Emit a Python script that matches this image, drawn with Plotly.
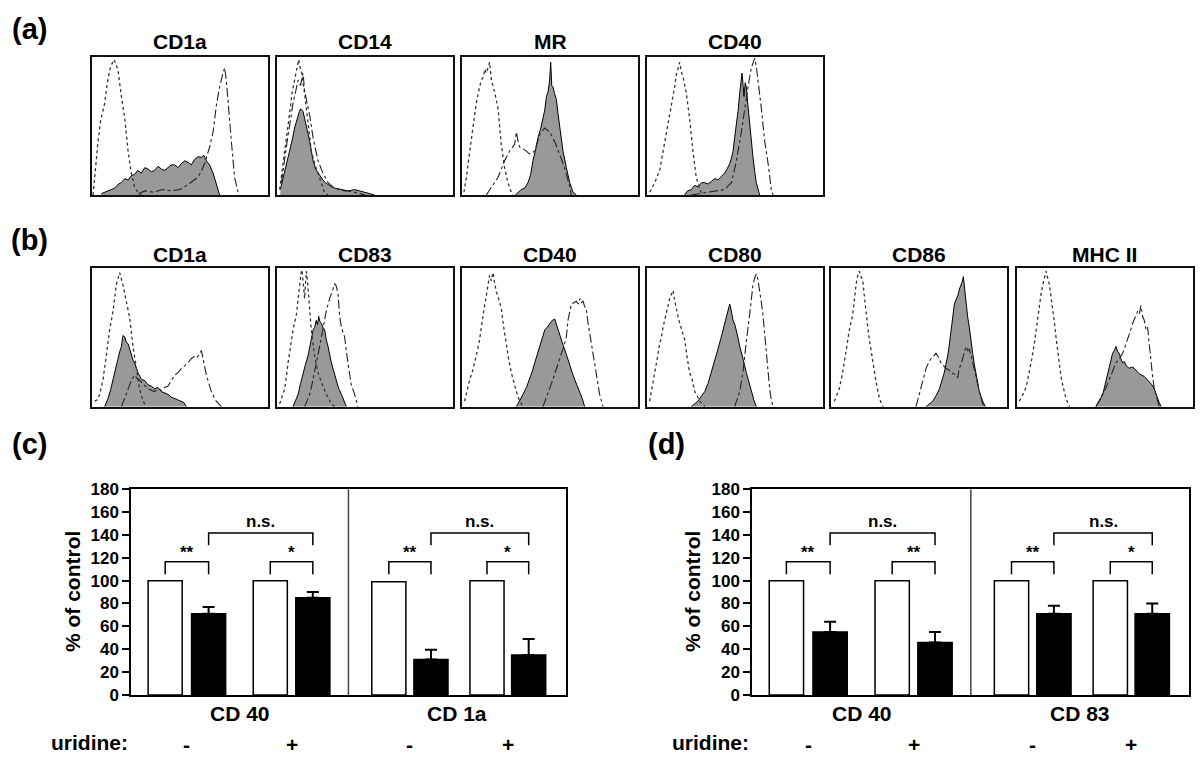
import plotly.graph_objects as go

W, H = 1200, 771
FONT = "Liberation Sans, Arial, Helvetica, sans-serif"

# ---------------- Histogram data (fluorescence channel as % of axis, relative count %) ----------------
# (a) CD1a
a_cd1a_iso_x = [0.6, 1.5, 3.4, 5, 7.2, 8.5, 10, 11, 12.5, 13.5, 14.8, 16.7, 18.6, 20.5, 22.3, 24.2, 26, 28]
a_cd1a_iso_y = [0, 13, 39, 55, 67, 80, 91, 95, 99, 96, 91, 72, 56, 32, 16, 6, 2, 0]
a_cd1a_dash_x = [26.5, 30, 35, 40, 45, 50, 54.5, 57, 60, 62, 64, 66.8, 68.8, 70.6, 72.5, 74.4, 75.4, 76.3, 77.3, 79.2, 81, 83, 84]
a_cd1a_dash_y = [1, 3, 2, 4, 3, 4, 7.5, 10, 13, 17, 23, 35, 46, 65, 79, 89, 93, 84, 67, 39, 13, 2, 0]
a_cd1a_fill_x = [5.3, 9, 12.9, 15, 16.7, 18.6, 20.5, 22.3, 24.2, 26, 28, 30, 31.8, 33.7, 35.6, 37.5, 39.4, 41.3, 43.2, 45, 47, 49, 50.8, 52.7, 54.5, 56.4, 58.3, 60.2, 62.1, 63.5, 65, 66.8, 68.8, 70.6, 72.5]
a_cd1a_fill_y = [1, 3, 5, 8, 9, 12, 11, 14, 15, 18, 16, 20, 19, 17, 18, 21, 19, 18, 20, 22, 22, 20, 23, 25, 24, 22, 26, 28, 27.5, 29, 25, 22, 16, 9, 0]

# (a) CD14
a_cd14_iso_x = [1.5, 3, 4.4, 6, 7.2, 8.6, 10, 11, 12.3, 13.1, 13.8, 15.7, 17.6, 19.5, 21.4, 23.3, 25.2, 27, 29]
a_cd14_iso_y = [4, 18, 32, 50, 60, 75, 84, 90, 99, 93, 91, 74, 51, 32, 23, 16, 9, 2, 0]
a_cd14_dash_x = [2.5, 4.4, 6.3, 7.7, 9.1, 10.5, 12, 13.4, 14.8, 15.7, 16.7, 17.6, 18.6, 20.5, 23.3, 26.1, 29, 32.8, 35.7, 38.5, 41, 44, 47, 50]
a_cd14_dash_y = [9, 28, 44, 55, 67, 75, 84, 80, 89, 76, 70, 62, 58, 42, 25, 16, 9, 5, 4, 3, 3, 2, 1, 0]
a_cd14_fill_x = [1.9, 3, 4.4, 5.8, 7.2, 8.6, 10, 11, 11.9, 12.7, 13.4, 14.1, 14.8, 15.7, 16.7, 17.6, 18.6, 19.5, 20.5, 21.9, 23.3, 24.7, 26.1, 27.5, 29, 31, 32.8, 35.7, 38.5, 41, 44, 47, 50, 53, 55.5]
a_cd14_fill_y = [4, 10, 16, 24, 32, 40, 49, 54, 58, 61, 63, 62, 61, 56, 51, 45, 39, 31, 25, 19, 16, 13, 11, 9, 7.5, 6, 5, 4, 3.5, 3, 4, 3, 2, 1, 0]

# (a) MR
a_mr_iso_x = [1.1, 2.5, 4.4, 6.3, 8.1, 10, 11, 12, 13, 13.8, 14.8, 15.7, 16.7, 18.6, 20.5, 22.3, 24.2, 26.1, 28, 29]
a_mr_iso_y = [2, 13, 32, 49, 67, 79, 84, 86, 92, 89, 94, 97, 84, 75, 63, 37, 20, 9, 2, 0]
a_mr_dash_x = [13.8, 16.7, 20.5, 24.2, 27, 29.9, 30.9, 32, 32.8, 35.6, 38.4, 41.3, 44.1, 47, 49.8, 52.7, 55.5, 58.3, 61.2, 62.1]
a_mr_dash_y = [0, 6, 13, 25, 32, 37, 46, 38, 35, 33, 30, 32, 44, 49, 46, 39, 30, 20, 6, 0]
a_mr_fill_x = [30.3, 33.7, 35.6, 37.5, 39, 40.3, 41.8, 43.2, 44.6, 46, 47, 48, 49, 49.8, 50.4, 51, 51.7, 52.6, 53.6, 54.5, 55.5, 56.5, 57.4, 59.3, 61.2, 63.1, 65]
a_mr_fill_y = [0, 4, 5, 9, 15, 25, 33, 42, 48, 56, 62, 72, 76, 84, 97, 80, 79, 74, 70, 60, 51, 40, 32, 20, 9, 2, 0]

# (a) CD40
a_cd40_iso_x = [1.5, 4.4, 7.2, 8.6, 10, 11.9, 13.8, 15.7, 16.7, 17.6, 18.6, 19.5, 20.5, 22.3, 24.2, 26.1, 28, 29.9, 31.8]
a_cd40_iso_y = [2, 9, 18, 28, 37, 51, 63, 79, 88, 93, 97, 90, 86, 75, 56, 32, 13, 4, 0]
a_cd40_dash_x = [25.2, 30, 34.7, 40, 44.1, 48, 50.8, 53.6, 55.5, 57.4, 59.3, 60.3, 61.2, 62.1, 63.1, 65, 66.9, 68.8, 70.6, 71.6]
a_cd40_dash_y = [0, 1, 2, 3, 4, 9, 25, 46, 63, 79, 93, 97, 100, 94, 84, 63, 39, 23, 4, 0]
a_cd40_fill_x = [21.4, 23, 25.2, 27, 29, 31, 32.8, 34.7, 36.6, 38.5, 40.3, 42, 44.1, 45.5, 47, 48, 48.9, 49.8, 50.8, 51.8, 52.7, 53.4, 54, 54.6, 55.1, 55.8, 56.4, 57.3, 58.3, 59.2, 60.2, 61.2, 62.1, 64]
a_cd40_fill_y = [0, 3, 4, 7, 6, 9, 9, 8, 10, 12, 11, 13, 16, 19, 23, 27, 32, 42, 51, 62, 75, 83, 89, 80, 72, 82, 79, 66, 51, 38, 28, 17, 9, 0]

# (b) CD1a
b_cd1a_iso_x = [1.5, 3, 4.4, 6.3, 8.1, 10, 12, 13.8, 15.7, 16.7, 17.6, 19.5, 21.4, 23.3, 25.2, 27, 29, 30.9]
b_cd1a_iso_y = [4, 5, 9, 20, 37, 56, 70, 89, 98, 93, 89, 77, 65, 44, 28, 13, 4, 0]
b_cd1a_dash_x = [16.7, 18.6, 20.5, 22.3, 24.2, 26.1, 28, 30, 31.8, 33.7, 35.6, 37.5, 39.4, 41.3, 43.2, 45, 47, 49, 50.8, 52.7, 54.5, 56.4, 58.3, 59.8, 61.2, 62.2, 63.1, 65, 67.8, 70.6, 73.5]
b_cd1a_dash_y = [0, 7, 13, 19, 23, 20, 18, 15, 13, 12, 11, 13, 12, 14, 15, 19, 23, 25, 28, 30, 32, 35, 37, 36, 39, 41, 35, 23, 11, 4, 0]
b_cd1a_fill_x = [7.2, 9.1, 10.5, 12, 13.4, 14.8, 15.7, 16.7, 17.6, 18.6, 19.5, 20.5, 21.4, 22.3, 23.3, 24.2, 26.1, 28, 30, 31.8, 33.7, 35.6, 37.5, 39.4, 41.3, 43.2, 45, 47, 49, 50.8, 52.2, 53.6]
b_cd1a_fill_y = [0, 6, 12, 20, 29, 37, 40, 44, 52, 51, 47, 46, 42, 39, 34, 32, 25, 20, 19, 16, 15, 13, 14, 11, 10, 9, 7, 6, 5, 4, 3, 0]

# (b) CD83
b_cd83_iso_x = [1.5, 3, 4.4, 6.3, 7.7, 9.1, 11, 12.1, 12.9, 13.6, 14.2, 14.9, 15.7, 16.2, 16.7, 17.3, 18, 19.5, 21.4, 23.3, 25.2, 28, 30.9, 32.8]
b_cd83_iso_y = [2, 7, 13, 32, 45, 56, 67, 80, 93, 97, 100, 90, 79, 90, 99, 92, 79, 56, 37, 25, 18, 9, 2, 0]
b_cd83_dash_x = [15.7, 17, 18.6, 20, 21.4, 22.8, 24.2, 26.1, 28, 29.9, 30.9, 31.8, 32.8, 33.7, 34.7, 35.6, 36.6, 38.4, 40.3, 42.2, 44.1, 45, 46]
b_cd83_dash_y = [0, 4, 9, 17, 25, 35, 44, 56, 70, 79, 82, 86, 90, 88, 82, 66, 58, 51, 32, 16, 9, 4, 0]
b_cd83_fill_x = [9.1, 10.5, 12, 13.4, 14.8, 16.2, 17.6, 19, 20.5, 21.4, 22.3, 23, 23.7, 24.4, 25.2, 26.1, 27.1, 28, 29, 30.9, 32.3, 33.7, 35.1, 36.6, 38.4, 39.4]
b_cd83_fill_y = [0, 5, 9, 17, 25, 31, 37, 47, 56, 58, 63, 60, 66, 62, 61, 58, 56, 49, 44, 32, 25, 18, 13, 9, 4, 0]

# (b) CD40
b_cd40_iso_x = [1.5, 3, 4.4, 5.8, 7.2, 8.6, 10, 11, 12, 12.9, 13.8, 14.8, 15.7, 16.7, 17.6, 18.6, 19.5, 21, 22.3, 23.7, 25.2, 26.6, 28, 30.9, 32.8, 34.7]
b_cd40_iso_y = [4, 12, 20, 25, 32, 40, 49, 60, 67, 74, 81, 90, 96, 92, 98, 90, 84, 78, 72, 58, 44, 34, 25, 11, 4, 0]
b_cd40_dash_x = [46, 47.5, 48.9, 50.3, 51.7, 53.1, 54.5, 56, 57.4, 58.3, 59.3, 60.2, 61.2, 62.1, 63.5, 65, 66, 66.9, 67.8, 68.8, 69.7, 70.6, 71.5, 72.5, 73.5, 74.4, 76.3, 78.2, 80.1]
b_cd40_dash_y = [0, 5, 9, 15, 20, 26, 32, 37, 42, 46, 51, 63, 70, 75, 76, 77, 75, 79, 76, 77, 73, 72, 62, 54, 45, 39, 23, 9, 0]
b_cd40_fill_x = [30.9, 32.8, 34.7, 36.6, 38.4, 40, 41.3, 42.7, 44.1, 45.5, 47, 48.4, 49.8, 51.2, 52.7, 53.6, 54.5, 55.5, 56.4, 57.4, 58.3, 59.7, 61.2, 62.6, 64, 65.5, 66.9, 68.3, 69.7]
b_cd40_fill_y = [0, 4, 9, 14, 20, 26, 32, 38, 44, 50, 56, 58, 61, 63, 64, 60, 56, 53, 49, 45, 42, 36, 30, 25, 20, 15, 11, 6, 0]

# (b) CD80
b_cd80_iso_x = [1.5, 3, 4.4, 5.8, 7.2, 8.1, 9.1, 10, 11, 12, 12.9, 13.8, 14.8, 15.7, 16.7, 17.6, 18.6, 20, 21.4, 22.8, 24.2, 25.6, 27.1, 28.5, 29.9, 31.4, 32.8]
b_cd80_iso_y = [4, 14, 23, 35, 46, 50, 58, 63, 70, 75, 79, 82, 85, 78, 70, 66, 61, 55, 49, 36, 25, 20, 11, 8, 4, 2, 0]
b_cd80_dash_x = [49.8, 51.2, 52.7, 53.6, 54.5, 55.5, 56.4, 57.4, 58.3, 59.3, 60.2, 61.2, 62.1, 63, 64, 65, 65.9, 66.9, 67.8, 68.8, 69.7, 70.6, 71.6]
b_cd80_dash_y = [0, 5, 11, 18, 25, 37, 49, 58, 67, 78, 89, 94, 97, 93, 86, 76, 67, 52, 39, 25, 13, 5, 0]
b_cd80_fill_x = [25.2, 27, 29, 31, 32.8, 34.7, 36.6, 38.4, 40.3, 41.8, 43.2, 44.1, 45.1, 46, 47, 47.9, 48.9, 49.9, 50.8, 51.8, 52.7, 53.6, 54.5, 55.5, 56.4, 57.8, 59.3, 60.7, 62.1]
b_cd80_fill_y = [0, 2, 4, 8, 11, 17, 25, 33, 42, 49, 56, 60, 65, 68, 75, 70, 63, 60, 56, 50, 44, 40, 35, 30, 25, 18, 11, 5, 0]

# (b) CD86
b_cd86_iso_x = [1.9, 3.3, 4.7, 6.2, 7.6, 9, 10.4, 11.4, 12.3, 13.3, 14.2, 15.2, 16.1, 17, 18, 19, 19.9, 20.9, 21.8, 22.8, 23.7, 25.6, 27.5, 29.4]
b_cd86_iso_y = [4, 8, 13, 22, 32, 44, 56, 62, 67, 78, 89, 96, 99, 95, 93, 80, 67, 58, 49, 40, 32, 18, 6, 0]
b_cd86_dash_x = [48.3, 49.7, 51.1, 52.6, 54, 55.4, 56.8, 58.3, 59.7, 61.1, 62.5, 63.9, 65.3, 66.8, 68.2, 69.6, 71, 72, 72.9, 73.9, 74.8, 75.8, 76.7, 77.7, 78.6, 79.5, 80.5, 81.4, 82.4, 84.3, 86.2, 87.1]
b_cd86_dash_y = [0, 7, 13, 21, 28, 32, 35, 37, 39, 36, 32, 30, 28, 27, 25, 24, 23, 21, 28, 31, 35, 40, 44, 41, 42, 38, 32, 27, 20, 11, 2, 0]
b_cd86_fill_x = [54, 56, 57.8, 59.7, 61.6, 63, 64.4, 65.3, 66.3, 67.3, 68.2, 69.2, 70.1, 71, 72, 73, 73.9, 74.5, 75.2, 75.9, 76.7, 77.6, 78.6, 79.5, 80.5, 81.4, 82.4, 83.3, 84.3, 86.2, 87.7]
b_cd86_fill_y = [0, 2, 4, 8, 13, 19, 25, 31, 37, 46, 56, 66, 75, 78, 81, 86, 89, 91, 95, 86, 79, 66, 58, 47, 39, 31, 25, 18, 11, 4, 0]

# (b) MHC II
b_mhc_iso_x = [1.5, 3, 4.4, 5.8, 7.2, 8.6, 10, 11.4, 12.9, 13.8, 14.8, 15.7, 16.7, 17.6, 18.6, 19.5, 20.5, 21.4, 22.3, 23.3, 24.2, 25.2, 26.1, 27, 28, 29.9]
b_mhc_iso_y = [4, 8, 11, 17, 25, 35, 46, 60, 72, 82, 89, 95, 99, 94, 89, 80, 72, 62, 51, 40, 30, 22, 16, 10, 6, 0]
b_mhc_dash_x = [45, 47, 48.9, 50.8, 52.7, 54.5, 56.4, 58.3, 60.2, 61.6, 63.1, 64.5, 65.9, 67.3, 68.8, 69.7, 70.6, 71.5, 72.5, 73.5, 74.4, 75.3, 76.3, 77.2, 78.2, 80.1, 81]
b_mhc_dash_y = [0, 5, 9, 14, 20, 26, 32, 35, 39, 44, 49, 55, 61, 66, 70, 68, 74, 66, 63, 56, 58, 46, 32, 22, 13, 4, 0]
b_mhc_fill_x = [45, 47, 48.9, 50.3, 51.7, 53.1, 54.5, 55.5, 56.4, 57.4, 58.3, 59.2, 60.2, 61.2, 62.1, 63, 64, 65.4, 66.8, 68.2, 69.7, 71.1, 72.5, 74, 75.4, 76.8, 78.2, 79.2, 80.1, 81, 82]
b_mhc_fill_y = [0, 4, 9, 16, 25, 32, 39, 41, 44, 40, 39, 35, 32, 33, 30, 29, 28, 29, 28, 26, 24, 23, 22, 20, 18, 16, 13, 10, 6, 3, 0]

# ---------------- Bar chart data ----------------
groups_c = ["CD 40", "CD 1a"]
groups_d = ["CD 40", "CD 83"]
uridine_labels = ["-", "+", "-", "+"]
c_control = [100, 100, 99, 100]
c_treated = [71, 85, 31, 35]
c_err = [6, 5, 8.5, 14]
c_sig = ["**", "*", "**", "*"]
d_control = [100, 100, 100, 100]
d_treated = [55, 46, 71, 71]
d_err = [9, 9, 7, 9]
d_sig = ["**", "**", "**", "*"]

# ---------------- Layout helpers ----------------
def px_x(p):
    return p / W

def px_y(p):
    return 1 - p / H

COL_X = [(92, 268), (277, 453), (462, 638), (647, 823), (831, 1007), (1016.7, 1192.7)]
ROW_Y = {"a": (49, 190.7), "b": (266, 407.7)}
TITLE_Y = {"a": 33, "b": 252}

hist_panels = [
    ("a", 0, "CD1a", (a_cd1a_fill_x, a_cd1a_fill_y), (a_cd1a_iso_x, a_cd1a_iso_y), (a_cd1a_dash_x, a_cd1a_dash_y)),
    ("a", 1, "CD14", (a_cd14_fill_x, a_cd14_fill_y), (a_cd14_iso_x, a_cd14_iso_y), (a_cd14_dash_x, a_cd14_dash_y)),
    ("a", 2, "MR", (a_mr_fill_x, a_mr_fill_y), (a_mr_iso_x, a_mr_iso_y), (a_mr_dash_x, a_mr_dash_y)),
    ("a", 3, "CD40", (a_cd40_fill_x, a_cd40_fill_y), (a_cd40_iso_x, a_cd40_iso_y), (a_cd40_dash_x, a_cd40_dash_y)),
    ("b", 0, "CD1a", (b_cd1a_fill_x, b_cd1a_fill_y), (b_cd1a_iso_x, b_cd1a_iso_y), (b_cd1a_dash_x, b_cd1a_dash_y)),
    ("b", 1, "CD83", (b_cd83_fill_x, b_cd83_fill_y), (b_cd83_iso_x, b_cd83_iso_y), (b_cd83_dash_x, b_cd83_dash_y)),
    ("b", 2, "CD40", (b_cd40_fill_x, b_cd40_fill_y), (b_cd40_iso_x, b_cd40_iso_y), (b_cd40_dash_x, b_cd40_dash_y)),
    ("b", 3, "CD80", (b_cd80_fill_x, b_cd80_fill_y), (b_cd80_iso_x, b_cd80_iso_y), (b_cd80_dash_x, b_cd80_dash_y)),
    ("b", 4, "CD86", (b_cd86_fill_x, b_cd86_fill_y), (b_cd86_iso_x, b_cd86_iso_y), (b_cd86_dash_x, b_cd86_dash_y)),
    ("b", 5, "MHC II", (b_mhc_fill_x, b_mhc_fill_y), (b_mhc_iso_x, b_mhc_iso_y), (b_mhc_dash_x, b_mhc_dash_y)),
]

fig = go.Figure()
layout_axes = {}
annotations = []

def ann(text, x, y, size, xref="paper", yref="paper", xanchor="center", yanchor="middle", angle=0):
    annotations.append(dict(
        text=text, x=x, y=y, xref=xref, yref=yref, xanchor=xanchor, yanchor=yanchor,
        textangle=angle, showarrow=False,
        font=dict(family=FONT, size=size, color="black", weight="bold"),
    ))

FILL_GRAY = "#999999"

for i, (row, col, title, fill, iso, dash) in enumerate(hist_panels, start=1):
    xa = "x" if i == 1 else f"x{i}"
    ya = "y" if i == 1 else f"y{i}"
    xk = "xaxis" if i == 1 else f"xaxis{i}"
    yk = "yaxis" if i == 1 else f"yaxis{i}"
    x0, x1 = COL_X[col]
    y0, y1 = ROW_Y[row]
    layout_axes[xk] = dict(domain=[px_x(x0), px_x(x1)], range=[0, 100], showgrid=False, zeroline=False,
                           showticklabels=False, ticks="", showline=True, mirror=True, linecolor="#111",
                           linewidth=2, anchor=ya, fixedrange=True)
    layout_axes[yk] = dict(domain=[px_y(y1), px_y(y0)], range=[0, 101], showgrid=False, zeroline=False,
                           showticklabels=False, ticks="", showline=True, mirror=True, linecolor="#111",
                           linewidth=2, anchor=xa, fixedrange=True)
    fig.add_trace(go.Scatter(x=fill[0], y=fill[1], mode="lines", fill="tozeroy", fillcolor=FILL_GRAY,
                             line=dict(color="black", width=1), xaxis=xa, yaxis=ya, showlegend=False,
                             hoverinfo="skip"))
    fig.add_trace(go.Scatter(x=iso[0], y=iso[1], mode="lines",
                             line=dict(color="#333333", width=1.3, dash="dot"), xaxis=xa, yaxis=ya,
                             showlegend=False, hoverinfo="skip"))
    fig.add_trace(go.Scatter(x=dash[0], y=dash[1], mode="lines",
                             line=dict(color="#222222", width=1.1, dash="dashdot"), xaxis=xa, yaxis=ya,
                             showlegend=False, hoverinfo="skip"))
    ann(title, px_x((x0 + x1) / 2), px_y(TITLE_Y[row]), 21)

# ---------------- Bar charts ----------------
WHITE_POS = [0.156, 0.640, 1.186, 1.638]
BLACK_POS = [0.356, 0.836, 1.380, 1.830]
BAR_W = 0.157
LOW_LEG = (105.6, 116.5)
UP_LEG = (131, 141.6)
STAR_Y = 125
NS_Y = 152

BAR_PANELS = [
    (11, (131.3, 565.6), groups_c, c_control, c_treated, c_err, c_sig, 72.7, 89.5),
    (12, (752.3, 1189.4), groups_d, d_control, d_treated, d_err, d_sig, 692.6, 710.8),
]
PLOT_TOP, PLOT_BOT = 492.3, 703.3

for idx, (xr0, xr1), groups, ctrl, trt, err, sig, ytitle_x, urid_x in BAR_PANELS:
    xa, ya = f"x{idx}", f"y{idx}"
    layout_axes[f"xaxis{idx}"] = dict(domain=[px_x(xr0), px_x(xr1)], range=[0, 2], showgrid=False,
                                      zeroline=False, showticklabels=False, ticks="", showline=True,
                                      mirror=True, linecolor="black", linewidth=2, anchor=ya, fixedrange=True)
    layout_axes[f"yaxis{idx}"] = dict(domain=[px_y(PLOT_BOT), px_y(PLOT_TOP)], range=[0, 180], dtick=20,
                                      tick0=0, showgrid=False, zeroline=False, ticks="outside", ticklen=7,
                                      tickwidth=1.5, tickcolor="black", showline=True, mirror=True,
                                      linecolor="black", linewidth=2, anchor=xa, fixedrange=True,
                                      tickfont=dict(family=FONT, size=17, color="black", weight="bold"))
    fig.add_trace(go.Bar(x=WHITE_POS, y=ctrl, width=BAR_W, marker=dict(color="white", line=dict(color="black", width=1.5)),
                         xaxis=xa, yaxis=ya, showlegend=False, hoverinfo="skip"))
    fig.add_trace(go.Bar(x=BLACK_POS, y=trt, width=BAR_W, marker=dict(color="black", line=dict(color="black", width=1.5)),
                         error_y=dict(type="data", array=err, arrayminus=[0] * len(err), symmetric=False,
                                      color="black", thickness=2, width=6),
                         xaxis=xa, yaxis=ya, showlegend=False, hoverinfo="skip"))
    # divider between the two markers
    fig.add_trace(go.Scatter(x=[1, 1], y=[0, 180], mode="lines", line=dict(color="#444444", width=1.5),
                             xaxis=xa, yaxis=ya, showlegend=False, hoverinfo="skip"))
    # significance brackets
    for k in range(4):
        xw, xb = WHITE_POS[k], BLACK_POS[k]
        fig.add_trace(go.Scatter(x=[xw, xw, xb, xb], y=[LOW_LEG[0], LOW_LEG[1], LOW_LEG[1], LOW_LEG[0]],
                                 mode="lines", line=dict(color="black", width=1.5), xaxis=xa, yaxis=ya,
                                 showlegend=False, hoverinfo="skip"))
        ann(sig[k], (xw + xb) / 2, STAR_Y, 17, xref=xa, yref=ya)
    for g in range(2):
        xb1, xb2 = BLACK_POS[2 * g], BLACK_POS[2 * g + 1]
        fig.add_trace(go.Scatter(x=[xb1, xb1, xb2, xb2], y=[UP_LEG[0], UP_LEG[1], UP_LEG[1], UP_LEG[0]],
                                 mode="lines", line=dict(color="black", width=1.5), xaxis=xa, yaxis=ya,
                                 showlegend=False, hoverinfo="skip"))
        ann("n.s.", (xb1 + xb2) / 2, NS_Y, 17, xref=xa, yref=ya)
        ann(groups[g], g + 0.5, px_y(722.7), 21, xref=xa)
    for k in range(4):
        ann(uridine_labels[k], (WHITE_POS[k] + BLACK_POS[k]) / 2, px_y(754), 21, xref=xa)
    ann("uridine:", px_x(urid_x), px_y(752), 21)
    ann("% of control", px_x(ytitle_x), px_y(597), 21, angle=-90)

# panel letters
ann("(a)", px_x(29), px_y(20), 29)
ann("(b)", px_x(29), px_y(237), 29)
ann("(c)", px_x(29), px_y(446), 29)
ann("(d)", px_x(666), px_y(446), 29)

fig.update_layout(
    width=W, height=H,
    margin=dict(l=0, r=0, t=0, b=0),
    paper_bgcolor="white", plot_bgcolor="white",
    barmode="overlay",
    font=dict(family=FONT, color="black"),
    annotations=annotations,
    showlegend=False,
    **layout_axes,
)

fig.write_html("out.html", config={"displayModeBar": False},
               post_script="document.body.style.margin='0px';document.body.style.overflow='hidden';")
